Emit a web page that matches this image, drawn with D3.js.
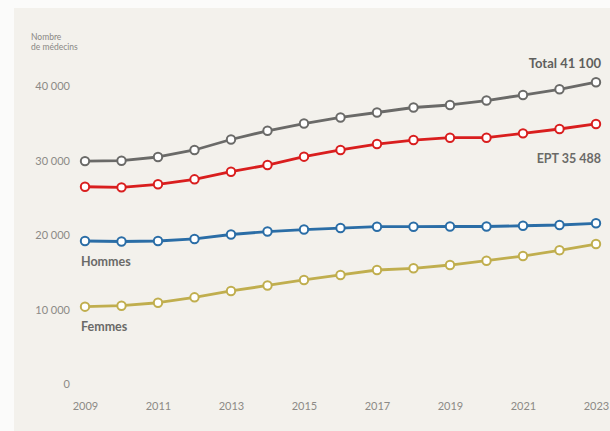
<!DOCTYPE html>
<html>
<head>
<meta charset="utf-8">
<script src="https://cdn.jsdelivr.net/npm/d3@7"></script>
<style>
  html, body { margin: 0; padding: 0; background: #fbfbfa; }
  svg { display: block; }
  text { font-family: Lato, "Open Sans", sans-serif; }
</style>
</head>
<body>
<svg id="chart" width="610" height="431"></svg>
<script>
// Médecins en exercice, 2009–2023
const years = [2009, 2010, 2011, 2012, 2013, 2014, 2015, 2016, 2017, 2018, 2019, 2020, 2021, 2022, 2023];
const total   = [30500, 30550, 31050, 31990, 33400, 34570, 35550, 36360, 37030, 37700, 38040, 38640, 39380, 40150, 41100];
const ept     = [27050, 26970, 27380, 28050, 29070, 29970, 31090, 31990, 32790, 33330, 33640, 33640, 34230, 34810, 35488];
const hommes  = [19760, 19690, 19760, 20030, 20630, 21030, 21300, 21500, 21680, 21680, 21710, 21710, 21810, 21910, 22140];
const femmes  = [10930, 11060, 11460, 12190, 13040, 13780, 14520, 15190, 15860, 16090, 16530, 17110, 17740, 18510, 19350];
const yTicks = [0, 10000, 20000, 30000, 40000];
const xTicks = [2009, 2011, 2013, 2015, 2017, 2019, 2021, 2023];

const series = [
  { name: "Total", values: total,  color: "#6a6a68" },
  { name: "EPT",   values: ept,    color: "#d91e1e" },
  { name: "Hommes", values: hommes, color: "#2a6da6" },
  { name: "Femmes", values: femmes, color: "#c0ae4e" }
];

const svg = d3.select("#chart");

// panel
svg.append("rect").attr("x", 14).attr("y", 8).attr("width", 596).attr("height", 423)
  .attr("fill", "#f3f1ec");

const x = d3.scaleLinear().domain([2009, 2023]).range([85, 596]);
const y = d3.scaleLinear().domain([0, 40000]).range([388, 90.4]);

const fmt = v => d3.format(",")(v).replace(/,/g, " ");

// y axis labels
const yAxis = d3.axisLeft(y).tickValues(yTicks).tickSize(0).tickPadding(0).tickFormat(fmt);
svg.append("g").attr("transform", "translate(70,-4)").call(yAxis)
  .call(g => g.select(".domain").remove())
  .call(g => g.selectAll("text").attr("fill", "#8c8a86").attr("font-size", 11)
    .attr("font-family", "Lato, sans-serif"));

// x axis labels
const xAxis = d3.axisBottom(x).tickValues(xTicks).tickSize(0).tickPadding(0).tickFormat(d3.format("d"));
svg.append("g").attr("transform", "translate(0,402)").call(xAxis)
  .call(g => g.select(".domain").remove())
  .call(g => g.selectAll("text").attr("fill", "#8c8a86").attr("font-size", 11)
    .attr("font-family", "Lato, sans-serif"));

// axis title
svg.append("text").attr("x", 31).attr("y", 40).attr("font-size", 8.5).attr("fill", "#8a8884").text("Nombre");
svg.append("text").attr("x", 31).attr("y", 50).attr("font-size", 8.5).attr("fill", "#8a8884").text("de médecins");

const line = d3.line().x((d, i) => x(years[i])).y(d => y(d));

series.forEach(s => {
  const g = svg.append("g");
  g.append("path").datum(s.values).attr("d", line)
    .attr("fill", "none").attr("stroke", s.color).attr("stroke-width", 2.8)
    .attr("stroke-linejoin", "round");
  g.selectAll("circle").data(s.values).join("circle")
    .attr("cx", (d, i) => x(years[i])).attr("cy", d => y(d)).attr("r", 4.2)
    .attr("fill", "#ffffff").attr("stroke", s.color).attr("stroke-width", 2);
});

// series labels
svg.append("text").attr("x", 601).attr("y", 68).attr("text-anchor", "end")
  .attr("font-size", 13).attr("font-weight", "bold").attr("fill", "#5f5f5d")
  .text("Total " + fmt(total[total.length - 1]));
svg.append("text").attr("x", 601).attr("y", 163).attr("text-anchor", "end")
  .attr("font-size", 12.5).attr("font-weight", "bold").attr("fill", "#6a6a68")
  .text("EPT " + fmt(ept[ept.length - 1]));
svg.append("text").attr("x", 81).attr("y", 266)
  .attr("font-size", 12.5).attr("font-weight", "bold").attr("fill", "#6a6a68").text("Hommes");
svg.append("text").attr("x", 81).attr("y", 331)
  .attr("font-size", 12.5).attr("font-weight", "bold").attr("fill", "#6a6a68").text("Femmes");
</script>
</body>
</html>
